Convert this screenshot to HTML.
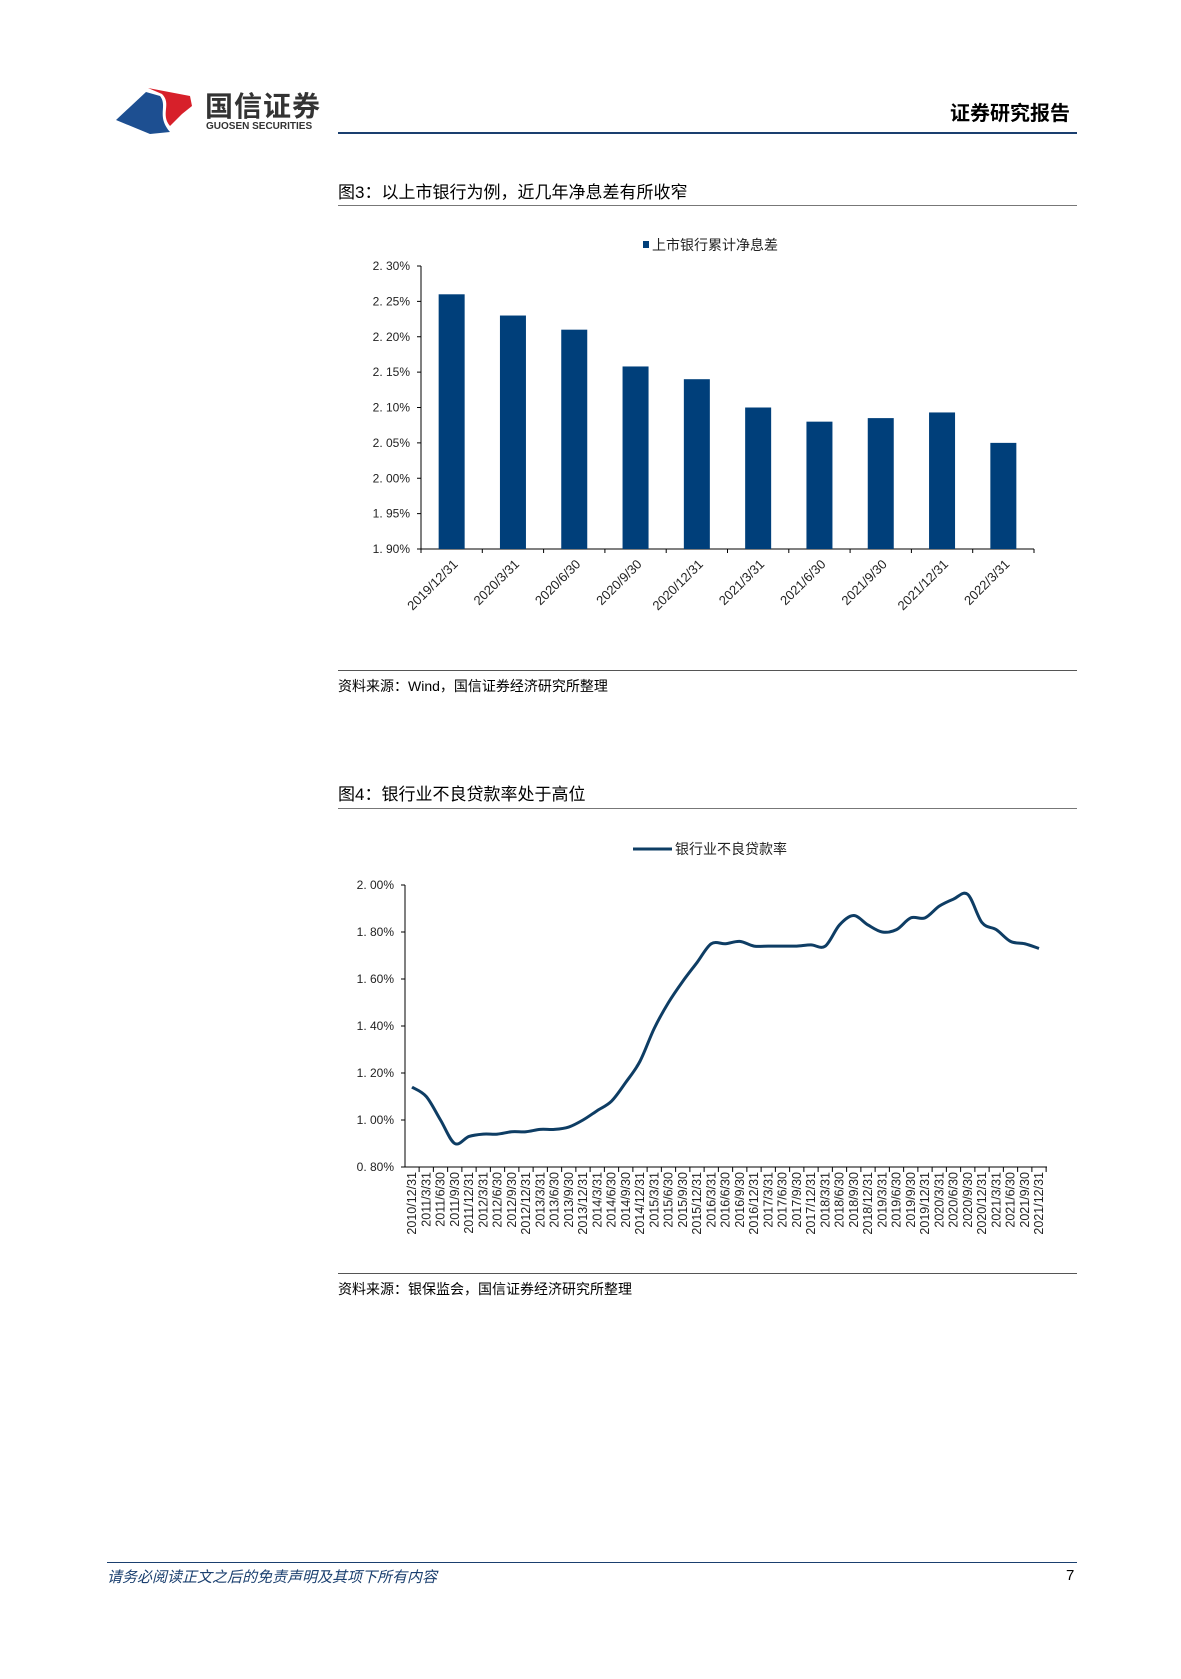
<!DOCTYPE html>
<html><head><meta charset="utf-8">
<style>
body{margin:0;background:#fff;}
#page{position:relative;width:1181px;height:1679px;overflow:hidden;font-family:"Liberation Sans","Noto Sans CJK SC",sans-serif;color:#000;}
.abs{position:absolute;white-space:nowrap;}
svg text{font-family:"Liberation Sans","Noto Sans CJK SC",sans-serif;}
</style></head><body>
<div id="page">
<svg class="abs" style="left:112px;top:82px" width="90" height="56">
<path d="M4,38 L34,10 L48,14 C56,24 44,34 58,50 L38,52 Z" fill="#1d4f91"/>
<path d="M36,6 L78,14 L80,24 L70,32 L58,44 C48,32 60,22 50,12 Z" fill="#d7202a"/>
</svg>
<div class="abs" style="left:205px;top:85px;font-size:28px;font-weight:bold;color:#333;letter-spacing:1px">国信证券</div>
<div class="abs" style="left:206px;top:121px;font-size:10px;font-weight:bold;color:#333">GUOSEN SECURITIES</div>
<div class="abs" style="left:950px;top:97px;font-size:20px;font-weight:bold">证券研究报告</div>
<div class="abs" style="left:338px;top:132px;width:739px;height:2px;background:#1a3f6f"></div>

<div class="abs" style="left:338px;top:178px;font-size:17px">图3：以上市银行为例，近几年净息差有所收窄</div>
<div class="abs" style="left:338px;top:205px;width:739px;height:1px;background:#777"></div>
<svg id="c1" class="abs" style="left:0;top:0" width="1181" height="660"></svg>
<div class="abs" style="left:338px;top:670px;width:739px;height:1px;background:#555"></div>
<div class="abs" style="left:338px;top:676px;font-size:14px">资料来源：Wind，国信证券经济研究所整理</div>

<div class="abs" style="left:338px;top:780px;font-size:17px">图4：银行业不良贷款率处于高位</div>
<div class="abs" style="left:338px;top:808px;width:739px;height:1px;background:#777"></div>
<svg id="c2" class="abs" style="left:0;top:820px" width="1181" height="450"></svg>
<div class="abs" style="left:338px;top:1273px;width:739px;height:1px;background:#555"></div>
<div class="abs" style="left:338px;top:1279px;font-size:14px">资料来源：银保监会，国信证券经济研究所整理</div>

<div class="abs" style="left:107px;top:1562px;width:970px;height:1px;background:#1a3f6f"></div>
<div class="abs" style="left:107px;top:1566px;font-size:15px;font-style:italic;color:#1a3f6f">请务必阅读正文之后的免责声明及其项下所有内容</div>
<div class="abs" style="left:1066px;top:1567px;font-size:15px">7</div>
</div>
<script>
const NS='http://www.w3.org/2000/svg';
function mk(p,t,a){const e=document.createElementNS(NS,t);for(const k in a)e.setAttribute(k,a[k]);p.appendChild(e);return e;}
// Chart 1 data
const barCats=['2019/12/31','2020/3/31','2020/6/30','2020/9/30','2020/12/31','2021/3/31','2021/6/30','2021/9/30','2021/12/31','2022/3/31'];
const barVals=[2.26,2.23,2.21,2.158,2.14,2.10,2.08,2.085,2.093,2.05];
const barTicks=[1.90,1.95,2.00,2.05,2.10,2.15,2.20,2.25,2.30];
const barTickLabels=['1. 90%','1. 95%','2. 00%','2. 05%','2. 10%','2. 15%','2. 20%','2. 25%','2. 30%'];
const barLegend='上市银行累计净息差';
// Chart 2 data
const lineCats=[];
for(let y=2010;y<=2021;y++){for(const q of ['3/31','6/30','9/30','12/31']){if(y===2010&&q!=='12/31')continue;lineCats.push(y+'/'+q);}}
const lineVals=[1.14,1.10,1.00,0.90,0.93,0.94,0.94,0.95,0.95,0.96,0.96,0.97,1.00,1.04,1.08,1.16,1.25,1.39,1.50,1.59,1.67,1.75,1.75,1.76,1.74,1.74,1.74,1.74,1.745,1.74,1.83,1.87,1.83,1.80,1.81,1.86,1.86,1.91,1.94,1.96,1.84,1.81,1.76,1.75,1.73];
const lineTicks=[0.8,1.0,1.2,1.4,1.6,1.8,2.0];
const lineTickLabels=['0. 80%','1. 00%','1. 20%','1. 40%','1. 60%','1. 80%','2. 00%'];
const lineLegend='银行业不良贷款率';

// chart 1
(function(){
const s=document.getElementById('c1');
const x0=421,x1=1034,yT=266,yB=549,vmin=1.90,vmax=2.30;
const y=v=>yB-(v-vmin)/(vmax-vmin)*(yB-yT);
const step=(x1-x0)/barCats.length;
const xc=i=>x0+step*(i+0.5);
let l=mk(s,'rect',{x:643,y:241,width:6,height:7,fill:'#003f7a'});

let lt=mk(s,'text',{x:652,y:250,'font-size':14,fill:'#222'});lt.textContent=barLegend;

mk(s,'line',{x1:x0,y1:yT,x2:x0,y2:yB,stroke:'#000','stroke-width':1});
mk(s,'line',{x1:x0,y1:yB,x2:x1,y2:yB,stroke:'#000','stroke-width':1});
barTicks.forEach((t,i)=>{mk(s,'line',{x1:x0-4,y1:y(t),x2:x0,y2:y(t),stroke:'#000'});
 const tx=mk(s,'text',{x:x0-11,y:y(t)+4,'font-size':12,'text-anchor':'end',fill:'#222'});tx.textContent=barTickLabels[i];
 });
for(let i=0;i<=barCats.length;i++)mk(s,'line',{x1:x0+step*i,y1:yB,x2:x0+step*i,y2:yB+4,stroke:'#000'});
barCats.forEach((c,i)=>{
 const r=mk(s,'rect',{x:xc(i)-13,y:y(barVals[i]),width:26,height:yB-y(barVals[i]),fill:'#003f7a'});
 
 const t=mk(s,'text',{x:xc(i)+7,y:yB+16,'font-size':13,'text-anchor':'end',fill:'#222',transform:`rotate(-45 ${xc(i)+7} ${yB+16})`});t.textContent=c;
 
});
})();
// chart 2
(function(){
const s=document.getElementById('c2');const oy=820;
const x0=405,x1=1047,yT=885-oy,yB=1167-oy,vmin=0.8,vmax=2.0;
const y=v=>yB-(v-vmin)/(vmax-vmin)*(yB-yT);
const step=(1039-412)/(lineCats.length-1);
const x=i=>412+step*i;
let ll=mk(s,'line',{x1:633,y1:29,x2:672,y2:29,stroke:'#0e3d64','stroke-width':3});

let lt=mk(s,'text',{x:675,y:34,'font-size':14,fill:'#222'});lt.textContent=lineLegend;

mk(s,'line',{x1:x0,y1:yT,x2:x0,y2:yB,stroke:'#000'});
mk(s,'line',{x1:x0,y1:yB,x2:x1,y2:yB,stroke:'#000'});
lineTicks.forEach((t,i)=>{mk(s,'line',{x1:x0-4,y1:y(t),x2:x0,y2:y(t),stroke:'#000'});
 const tx=mk(s,'text',{x:x0-11,y:y(t)+4,'font-size':12,'text-anchor':'end',fill:'#222'});tx.textContent=lineTickLabels[i];
 });
lineCats.forEach((c,i)=>{mk(s,'line',{x1:x(i)+step/2,y1:yB,x2:x(i)+step/2,y2:yB+5,stroke:'#000'});
 const t=mk(s,'text',{x:x(i)+4,y:yB+5,'font-size':12.5,'text-anchor':'end',fill:'#222',transform:`rotate(-90 ${x(i)+4} ${yB+5})`});t.textContent=c;
 });
const P=lineVals.map((v,i)=>[x(i),y(v)]);
let d='M'+P[0][0]+','+P[0][1];
for(let i=0;i<P.length-1;i++){const p0=P[Math.max(0,i-1)],p1=P[i],p2=P[i+1],p3=P[Math.min(P.length-1,i+2)];
 d+=` C${p1[0]+(p2[0]-p0[0])/6},${p1[1]+(p2[1]-p0[1])/6} ${p2[0]-(p3[0]-p1[0])/6},${p2[1]-(p3[1]-p1[1])/6} ${p2[0]},${p2[1]}`;}
const pa=mk(s,'path',{d:d,fill:'none',stroke:'#0e3d64','stroke-width':3});

})();
</script>
</body></html>
